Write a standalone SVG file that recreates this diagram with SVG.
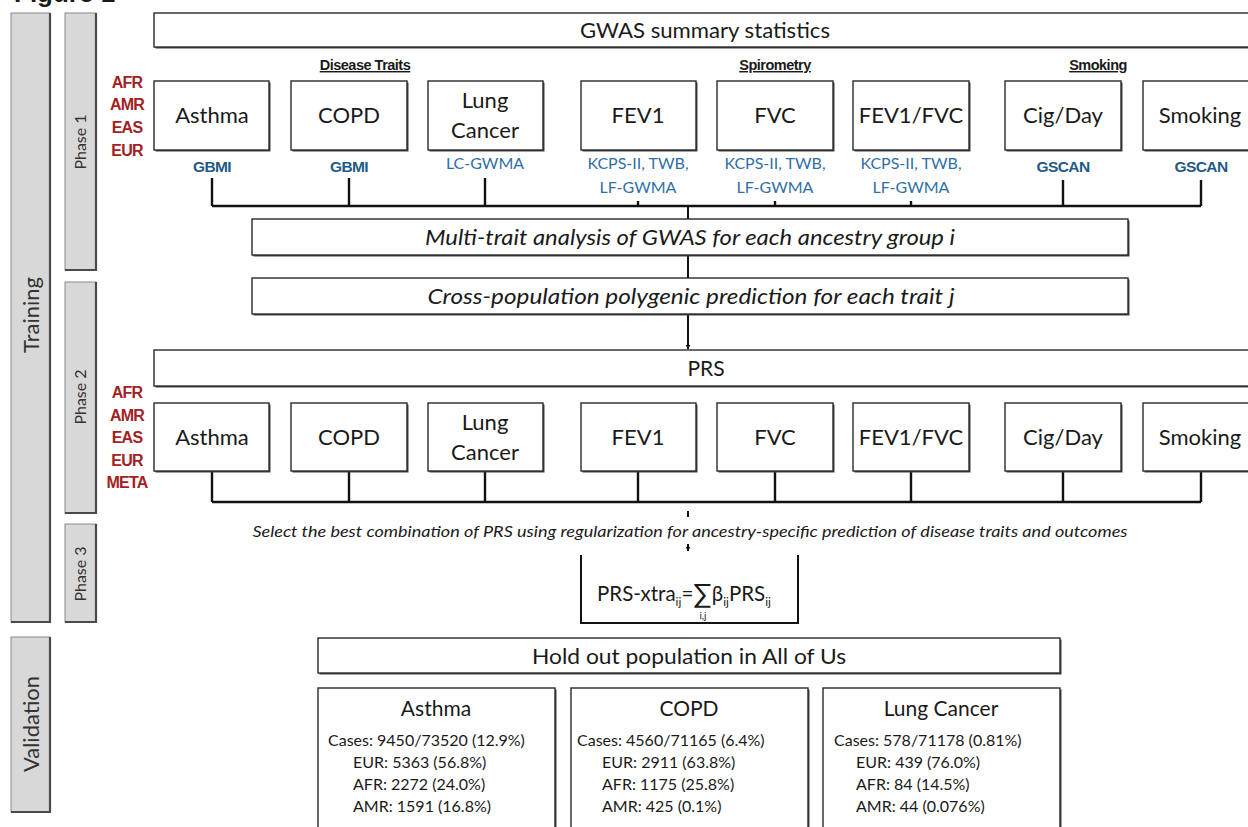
<svg xmlns="http://www.w3.org/2000/svg" width="1248" height="827" viewBox="0 0 1248 827">
<style>
text{font-family:Lato,"Noto Sans","Liberation Sans",sans-serif;fill:#1a1a1a}
.sh{fill:#444}
.box{fill:#fff;stroke:#2a2a2a;stroke-width:1.4}
.bar{fill:#d8d8d8;stroke:#8a8a8a;stroke-width:1}
.bare{fill:none;stroke:#4a4a4a;stroke-width:2.2}
.bt{font-size:22px;text-anchor:middle}
.wide{font-size:21px;text-anchor:middle}
.it{font-style:italic;font-size:21px;text-anchor:middle}
.anc{font-family:"Liberation Sans",Arial,sans-serif;font-weight:bold;font-size:16px;fill:#a3211f;text-anchor:middle;letter-spacing:-0.8px}
.src{font-size:16px;fill:#2f6fa8;text-anchor:middle}
.srcb{font-family:"Liberation Sans",Arial,sans-serif;font-weight:bold;font-size:15.5px;fill:#1f5a88;text-anchor:middle;letter-spacing:-0.6px}
.hdr{font-family:"Liberation Sans",Arial,sans-serif;font-weight:bold;font-size:14.5px;text-anchor:middle;text-decoration:underline;letter-spacing:-0.5px}
.side{font-size:22px;text-anchor:middle;fill:#333}
.ph{font-size:16px;text-anchor:middle;fill:#333}
.vt{font-size:21px;text-anchor:middle}
.vl{font-size:16px}
.ln{fill:none;stroke:#111;stroke-width:2.4}
.ln1{fill:none;stroke:#111;stroke-width:2}
</style>
<defs>
<marker id="ah" viewBox="0 0 10 10" refX="9" refY="5" markerWidth="5" markerHeight="5" orient="auto" markerUnits="userSpaceOnUse">
<path d="M0,0 L10,5 L0,10 z" fill="#111"/>
</marker>
</defs>

<text x="14" y="2" style="font-family:'Liberation Sans',Arial,sans-serif;font-weight:bold;font-size:26px">Figure 1</text>

<g id="side-training">
<rect class="bar" x="11" y="13" width="39" height="609"/>
<path class="bare" d="M50,13 V622 H11"/>
<text class="side" transform="translate(39,315) rotate(-90)">Training</text>
</g>
<g id="side-validation">
<rect class="bar" x="11" y="637" width="39" height="175"/>
<path class="bare" d="M50,637 V812 H11"/>
<text class="side" transform="translate(39,724) rotate(-90)">Validation</text>
</g>
<g id="phase1">
<rect class="bar" x="65" y="13" width="31" height="257"/>
<path class="bare" d="M96,13 V270 H65"/>
<text class="ph" transform="translate(86,142) rotate(-90)">Phase 1</text>
</g>
<g id="phase2">
<rect class="bar" x="65" y="282" width="31" height="231"/>
<path class="bare" d="M96,282 V513 H65"/>
<text class="ph" transform="translate(86,397) rotate(-90)">Phase 2</text>
</g>
<g id="phase3">
<rect class="bar" x="65" y="524" width="31" height="98"/>
<path class="bare" d="M96,524 V622 H65"/>
<text class="ph" transform="translate(86,574) rotate(-90)">Phase 3</text>
</g>

<g id="connectors">
<path class="ln" d="M212,178 V206 M349,178 V206 M485,178 V206 M638,201 V206 M775,201 V206 M911,201 V206 M1063,180 V206 M1201,180 V206 M212,206 H1201"/>
<path class="ln1" d="M688,206 V219 M688,255 V278"/>
<path class="ln1" d="M688,314 V349" marker-end="url(#ah)"/>
<path class="ln" d="M212,472 V502 M349,472 V502 M485,472 V502 M638,472 V502 M775,472 V502 M911,472 V502 M1063,472 V502 M1201,472 V502 M212,502 H1201"/>
<path class="ln1" d="M688,511 V517"/>
<path class="ln1" d="M688,544 V551" marker-end="url(#ah)"/>
</g>

<g id="gwas">
<rect class="sh" x="155.5" y="14.5" width="1100" height="34"/>
<rect class="box" x="154" y="13" width="1100" height="34"/>
<text class="wide" x="705" y="38" textLength="250" lengthAdjust="spacingAndGlyphs">GWAS summary statistics</text>
</g>

<g id="headers">
<text class="hdr" x="365" y="70">Disease Traits</text>
<text class="hdr" x="775" y="70">Spirometry</text>
<text class="hdr" x="1098" y="70">Smoking</text>
</g>

<g id="anc1">
<text class="anc" x="127" y="88">AFR</text>
<text class="anc" x="127" y="110">AMR</text>
<text class="anc" x="127" y="133">EAS</text>
<text class="anc" x="127" y="156">EUR</text>
</g>

<g id="p1-asthma">
<rect class="sh" x="155.5" y="82.5" width="115" height="69"/>
<rect class="box" x="154" y="81" width="115" height="69"/>
<text class="bt" x="212" y="123">Asthma</text>
<text class="srcb" x="212" y="172">GBMI</text>
</g>
<g id="p1-copd">
<rect class="sh" x="292.5" y="82.5" width="116" height="69"/>
<rect class="box" x="291" y="81" width="116" height="69"/>
<text class="bt" x="349" y="123">COPD</text>
<text class="srcb" x="349" y="172">GBMI</text>
</g>
<g id="p1-lung">
<rect class="sh" x="429.5" y="82.5" width="115" height="69"/>
<rect class="box" x="428" y="81" width="115" height="69"/>
<text class="bt" x="485" y="108">Lung</text>
<text class="bt" x="485" y="138">Cancer</text>
<text class="src" x="485" y="169">LC-GWMA</text>
</g>
<g id="p1-fev1">
<rect class="sh" x="582.5" y="82.5" width="115" height="69"/>
<rect class="box" x="581" y="81" width="115" height="69"/>
<text class="bt" x="638" y="123">FEV1</text>
<text class="src" x="638" y="169">KCPS-II, TWB,</text>
<text class="src" x="638" y="193">LF-GWMA</text>
</g>
<g id="p1-fvc">
<rect class="sh" x="718.5" y="82.5" width="116" height="69"/>
<rect class="box" x="717" y="81" width="116" height="69"/>
<text class="bt" x="775" y="123">FVC</text>
<text class="src" x="775" y="169">KCPS-II, TWB,</text>
<text class="src" x="775" y="193">LF-GWMA</text>
</g>
<g id="p1-fev1fvc">
<rect class="sh" x="854.5" y="82.5" width="116" height="69"/>
<rect class="box" x="853" y="81" width="116" height="69"/>
<text class="bt" x="911" y="123">FEV1/FVC</text>
<text class="src" x="911" y="169">KCPS-II, TWB,</text>
<text class="src" x="911" y="193">LF-GWMA</text>
</g>
<g id="p1-cig">
<rect class="sh" x="1006.5" y="82.5" width="116" height="69"/>
<rect class="box" x="1005" y="81" width="116" height="69"/>
<text class="bt" x="1063" y="123">Cig/Day</text>
<text class="srcb" x="1063" y="172">GSCAN</text>
</g>
<g id="p1-smoking">
<rect class="sh" x="1144.5" y="82.5" width="116" height="69"/>
<rect class="box" x="1143" y="81" width="116" height="69"/>
<text class="bt" x="1200" y="123">Smoking</text>
<text class="srcb" x="1201" y="172">GSCAN</text>
</g>

<g id="multitrait">
<rect class="sh" x="253.5" y="220.5" width="876" height="36"/>
<rect class="box" x="252" y="219" width="876" height="36"/>
<text class="it" x="690" y="245" textLength="530" lengthAdjust="spacingAndGlyphs">Multi-trait analysis of GWAS  for each ancestry group i</text>
</g>
<g id="crosspop">
<rect class="sh" x="253.5" y="279.5" width="876" height="36"/>
<rect class="box" x="252" y="278" width="876" height="36"/>
<text class="it" x="691" y="304" textLength="527" lengthAdjust="spacingAndGlyphs">Cross-population polygenic prediction for each trait j</text>
</g>

<g id="prs">
<rect class="sh" x="155.5" y="351.5" width="1100" height="36"/>
<rect class="box" x="154" y="350" width="1100" height="36"/>
<text class="wide" x="706" y="376">PRS</text>
</g>

<g id="anc2">
<text class="anc" x="127" y="398">AFR</text>
<text class="anc" x="127" y="421">AMR</text>
<text class="anc" x="127" y="443">EAS</text>
<text class="anc" x="127" y="466">EUR</text>
<text class="anc" x="127" y="488">META</text>
</g>

<g id="p2-asthma">
<rect class="sh" x="155.5" y="404.5" width="115" height="68"/>
<rect class="box" x="154" y="403" width="115" height="68"/>
<text class="bt" x="212" y="445">Asthma</text>
</g>
<g id="p2-copd">
<rect class="sh" x="292.5" y="404.5" width="116" height="68"/>
<rect class="box" x="291" y="403" width="116" height="68"/>
<text class="bt" x="349" y="445">COPD</text>
</g>
<g id="p2-lung">
<rect class="sh" x="429.5" y="404.5" width="115" height="68"/>
<rect class="box" x="428" y="403" width="115" height="68"/>
<text class="bt" x="485" y="430">Lung</text>
<text class="bt" x="485" y="460">Cancer</text>
</g>
<g id="p2-fev1">
<rect class="sh" x="582.5" y="404.5" width="115" height="68"/>
<rect class="box" x="581" y="403" width="115" height="68"/>
<text class="bt" x="638" y="445">FEV1</text>
</g>
<g id="p2-fvc">
<rect class="sh" x="718.5" y="404.5" width="116" height="68"/>
<rect class="box" x="717" y="403" width="116" height="68"/>
<text class="bt" x="775" y="445">FVC</text>
</g>
<g id="p2-fev1fvc">
<rect class="sh" x="854.5" y="404.5" width="116" height="68"/>
<rect class="box" x="853" y="403" width="116" height="68"/>
<text class="bt" x="911" y="445">FEV1/FVC</text>
</g>
<g id="p2-cig">
<rect class="sh" x="1006.5" y="404.5" width="116" height="68"/>
<rect class="box" x="1005" y="403" width="116" height="68"/>
<text class="bt" x="1063" y="445">Cig/Day</text>
</g>
<g id="p2-smoking">
<rect class="sh" x="1144.5" y="404.5" width="116" height="68"/>
<rect class="box" x="1143" y="403" width="116" height="68"/>
<text class="bt" x="1200" y="445">Smoking</text>
</g>

<g id="select-label">
<text x="690" y="537" style="font-style:italic;font-size:14.5px;text-anchor:middle" textLength="875" lengthAdjust="spacingAndGlyphs">Select the best combination of PRS using regularization for ancestry-specific prediction of disease traits and outcomes</text>
</g>

<g id="formula">
<path d="M581,555 V623 H798 V555" fill="none" stroke="#111" stroke-width="2"/>
<text x="597" y="601" style="font-size:20.5px">PRS-xtra<tspan dy="5" style="font-size:12px">ij</tspan><tspan dy="-5">=</tspan><tspan dy="2" style="font-size:27px">∑</tspan><tspan dy="-2">β</tspan><tspan dy="5" style="font-size:12px">ij</tspan><tspan dy="-5">PRS</tspan><tspan dy="5" style="font-size:12px">ij</tspan></text>
<text x="703" y="619" style="font-size:10px;text-anchor:middle">i,j</text>
</g>

<g id="holdout">
<rect class="sh" x="319.5" y="639.5" width="742" height="35"/>
<rect class="box" x="318" y="638" width="742" height="35"/>
<text class="wide" x="689" y="664" style="font-size:22px" textLength="314" lengthAdjust="spacingAndGlyphs">Hold out population in All of Us</text>
</g>

<g id="v-asthma">
<rect class="sh" x="319.5" y="689.5" width="237" height="160"/>
<rect class="box" x="318" y="688" width="237" height="160"/>
<text class="vt" x="436" y="716">Asthma</text>
<text class="vl" x="328" y="746">Cases: 9450/73520 (12.9%)</text>
<text class="vl" x="353" y="768">EUR: 5363 (56.8%)</text>
<text class="vl" x="353" y="790">AFR: 2272 (24.0%)</text>
<text class="vl" x="353" y="812">AMR: 1591 (16.8%)</text>
</g>
<g id="v-copd">
<rect class="sh" x="572.5" y="689.5" width="237" height="160"/>
<rect class="box" x="571" y="688" width="237" height="160"/>
<text class="vt" x="689" y="716">COPD</text>
<text class="vl" x="577" y="746">Cases: 4560/71165 (6.4%)</text>
<text class="vl" x="602" y="768">EUR: 2911 (63.8%)</text>
<text class="vl" x="602" y="790">AFR: 1175 (25.8%)</text>
<text class="vl" x="602" y="812">AMR: 425 (0.1%)</text>
</g>
<g id="v-lung">
<rect class="sh" x="824.5" y="689.5" width="237" height="160"/>
<rect class="box" x="823" y="688" width="237" height="160"/>
<text class="vt" x="941" y="716">Lung Cancer</text>
<text class="vl" x="834" y="746">Cases: 578/71178 (0.81%)</text>
<text class="vl" x="856" y="768">EUR: 439 (76.0%)</text>
<text class="vl" x="856" y="790">AFR: 84 (14.5%)</text>
<text class="vl" x="856" y="812">AMR: 44 (0.076%)</text>
</g>
</svg>
